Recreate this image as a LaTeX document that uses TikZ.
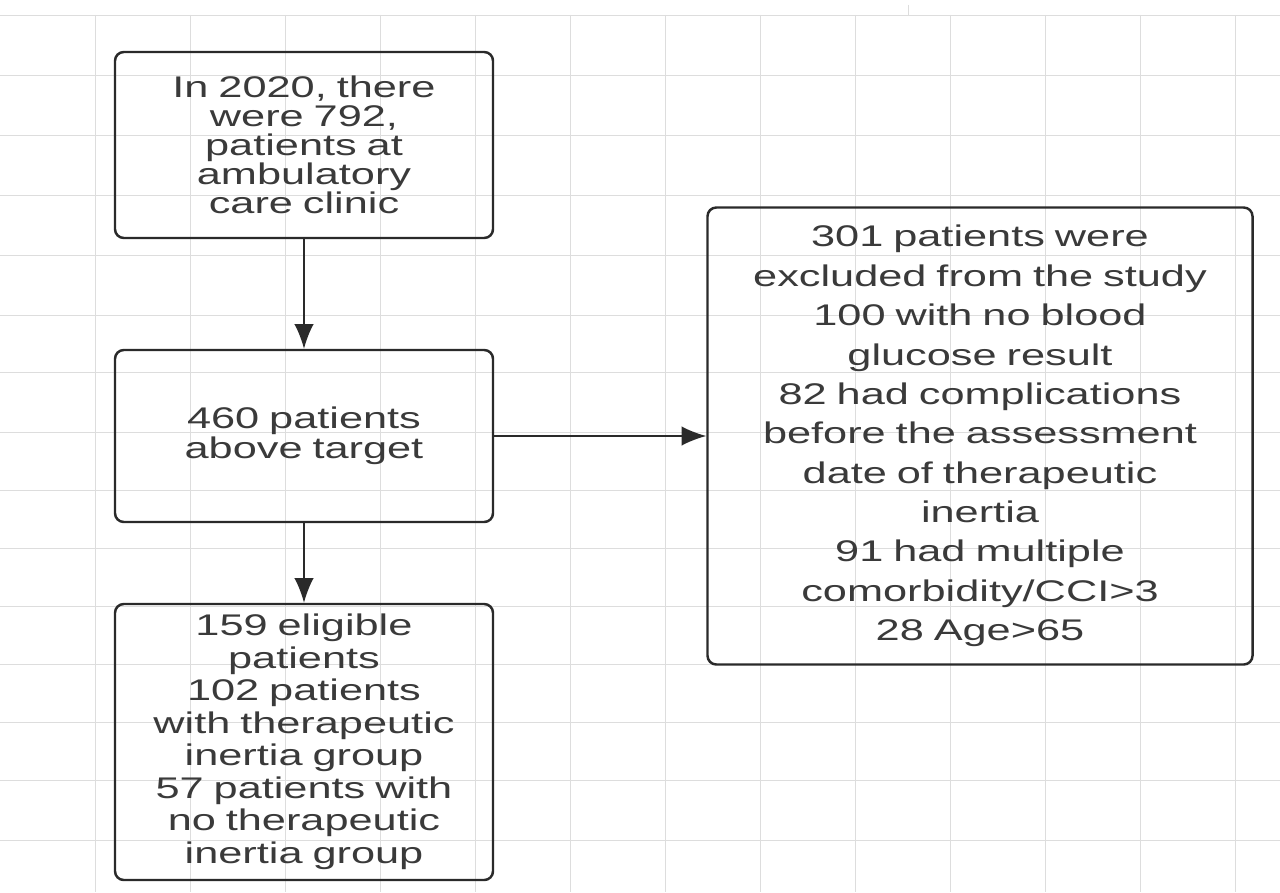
\documentclass[tikz,border=0pt]{standalone}
\usepackage{fontspec}
\setmainfont[FakeStretch=1.45]{Liberation Sans}
\usetikzlibrary{arrows.meta}
\definecolor{gridGray}{HTML}{DDDDDD}
\definecolor{boxInk}{HTML}{2A2A2A}
\definecolor{textInk}{HTML}{3A3A3A}
\begin{document}
\begin{tikzpicture}
		[x=0.02cm,y=-0.02cm,
		boxDecorate/.style={draw=boxInk,line width=1.4pt,rounded corners=5pt,align=center,
			text=textInk,inner sep=0pt,text width=10.5cm},
		arrowDecorate/.style={draw=boxInk,line width=0.9pt,-{Latex[length=14pt,width=11pt]}}]
		\useasboundingbox (0,0) rectangle (1280,892);
		%% grid
		\foreach \x in {95,190,285,380,475,570,665,760,855,950,1045,1140,1235}
		{
			\draw[gridGray] (\x,15) -- (\x,892);
		}
		\foreach \y in {75,135,195,255,315,372,432,490,548,606,664,722,780,840}
		{
			\draw[gridGray] (0,\y) -- (1280,\y);
		}
		\draw[gridGray] (0,15) -- (1280,15);
		\draw[gridGray] (908,5) -- (908,15);
		%% boxes
		\node (start) at (304,145) [boxDecorate,minimum width=378*0.02cm,minimum height=186*0.02cm,text width=7cm,
			font=\fontsize{17}{16.5}\selectfont]
			{In 2020, there\\were 792,\\patients at\\ambulatory\\care clinic};
		\node (target) at (304,436) [boxDecorate,minimum width=378*0.02cm,minimum height=172*0.02cm,text width=7cm,
			font=\fontsize{17}{15.3}\selectfont]
			{460 patients\\above target};
		\node (eligible) at (304,742) [boxDecorate,minimum width=378*0.02cm,minimum height=276*0.02cm,text width=7cm,
			font=\fontsize{17}{18.5}\selectfont]
			{159 eligible\\patients\\102 patients\\with therapeutic\\inertia group\\57 patients with\\no therapeutic\\inertia group};
		\node (excluded) at (980,436) [boxDecorate,minimum width=545*0.02cm,minimum height=457*0.02cm,
			font=\fontsize{17}{22.4}\selectfont]
			{301 patients were\\excluded from the study\\100 with no blood\\glucose result\\82 had complications\\before the assessment\\date of therapeutic\\inertia\\91 had multiple\\comorbidity/CCI>3\\28 Age>65};
		%% arrows
		\draw[arrowDecorate] (start) -- (target);
		\draw[arrowDecorate] (target) -- (eligible);
		\draw[arrowDecorate] (target) -- (excluded);
	\end{tikzpicture}
\end{document}
